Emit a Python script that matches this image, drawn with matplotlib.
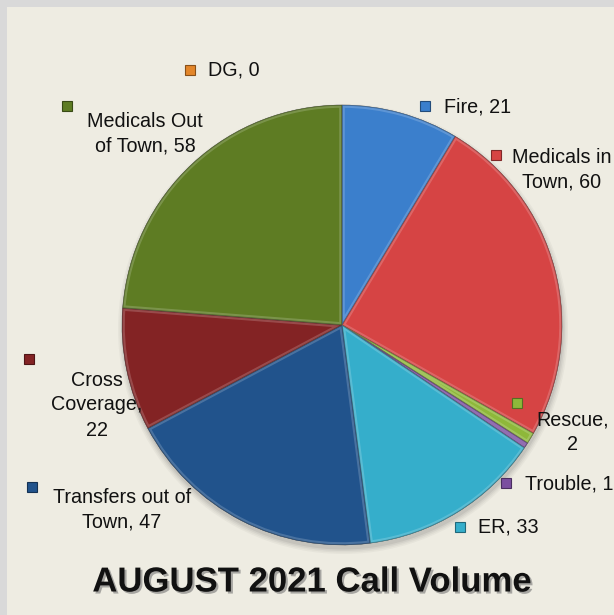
import matplotlib
matplotlib.use("Agg")
import matplotlib.pyplot as plt
import matplotlib.patheffects as pe
from matplotlib import font_manager
from matplotlib.colors import to_rgb
from matplotlib.patches import Rectangle, Circle, Wedge
import numpy as np

# Call volume, August 2021 (clockwise from 12 o'clock)
categories = ["Fire", "Medicals in Town", "Rescue", "Trouble", "ER",
              "Transfers out of Town", "Cross Coverage",
              "Medicals Out of Town", "DG"]
calls = [21, 60, 2, 1, 33, 47, 22, 58, 0]
colors = ["#3B7FCC", "#D64444", "#8EB83A", "#7B4FA0", "#35AECB",
          "#21538C", "#832324", "#5E7C23", "#E3862A"]
title = "AUGUST 2021 Call Volume"

# how each label wraps in the original
label_fmt = ["Fire, {}", "Medicals in\nTown, {}", "Rescue,\n{}", "Trouble, {}",
             "ER, {}", "Transfers out of\nTown, {}", "Cross\nCoverage,\n{}",
             "Medicals Out\nof Town, {}", "DG, {}"]

W, H = 614, 615


def fy(y):
    # pixel row (from top) -> axes y
    return H - y


names = {f.name for f in font_manager.fontManager.ttflist}
FONT = "Liberation Sans Narrow" if "Liberation Sans Narrow" in names else "Liberation Sans"
narrow = FONT == "Liberation Sans Narrow"

fig = plt.figure(figsize=(W / 100, H / 100), dpi=100, facecolor="#D9D9D9")
ax = fig.add_axes([0, 0, 1, 1])
ax.set_xlim(0, W)
ax.set_ylim(0, H)
ax.axis("off")

ax.add_patch(Rectangle((7, 0), W - 7, H - 7, facecolor="#EEECE2",
                       edgecolor="none", zorder=0))

cx, cy, r = 342, fy(325), 220

# soft drop shadow under the pie
for i, a in enumerate([0.05, 0.06, 0.08, 0.10]):
    ax.add_patch(Circle((cx + 1, cy - 4), r + 5 - i * 1.5, facecolor="#555555",
                        edgecolor="none", alpha=a, zorder=1))

wedges, _ = ax.pie(calls, colors=colors, startangle=90, counterclock=False,
                   center=(cx, cy), radius=r,
                   wedgeprops=dict(edgecolor="#3a3a3a", linewidth=0.3))
for w in wedges:
    w.set_zorder(2)

# bevel highlight along each wedge edge
for w, c in zip(wedges, colors):
    if w.theta2 - w.theta1 <= 0:
        continue
    rgb = np.array(to_rgb(c))
    light = rgb + (1 - rgb) * 0.4
    hl = Wedge(w.center, w.r, w.theta1, w.theta2, facecolor="none",
               edgecolor=light, linewidth=4, alpha=0.45, zorder=3)
    ax.add_patch(hl)
    hl.set_clip_path(w)
    dk = Wedge(w.center, w.r, w.theta1, w.theta2, facecolor="none",
               edgecolor=rgb * 0.6, linewidth=1.0, alpha=0.6, zorder=3)
    ax.add_patch(dk)
    dk.set_clip_path(w)

ax.set_xlim(0, W)
ax.set_ylim(0, H)
ax.set_aspect("auto")

# label layout: marker (x, y), text anchor (x, y), alignment
label_pos = [
    ((425, 106), (444, 107), "left"),
    ((496, 155), (562, 170), "center"),
    ((517, 403), (573, 432), "center"),
    ((506, 483), (525, 484), "left"),
    ((460, 527), (478, 527), "left"),
    ((32, 487), (122, 510), "center"),
    ((29, 359), (97, 405), "center"),
    ((67, 106), (145, 134), "center"),
    ((190, 70), (208, 70), "left"),
]

fs = 15.5 if narrow else 14.2
for cat, v, c, fmt, (mpos, tpos, ha) in zip(categories, calls, colors,
                                             label_fmt, label_pos):
    rgb = np.array(to_rgb(c))
    ax.plot(mpos[0], fy(mpos[1]), marker="s", markersize=7.5, color=c,
            markeredgecolor=rgb * 0.6, markeredgewidth=0.8, zorder=5)
    ax.text(tpos[0], fy(tpos[1]), fmt.format(v), ha=ha, va="center",
            multialignment="center", fontsize=fs, family=FONT,
            color="#111111", linespacing=1.4, zorder=6)

ax.text(312, fy(582), title, ha="center", va="center",
        fontsize=28 if narrow else 25, fontweight="bold", family=FONT,
        color="#111111", zorder=6,
        path_effects=[pe.SimplePatchShadow(offset=(1.5, -1.5),
                                           shadow_rgbFace="#777777", alpha=0.6),
                      pe.Normal()])

fig.savefig("out.png", dpi=100, facecolor=fig.get_facecolor())
